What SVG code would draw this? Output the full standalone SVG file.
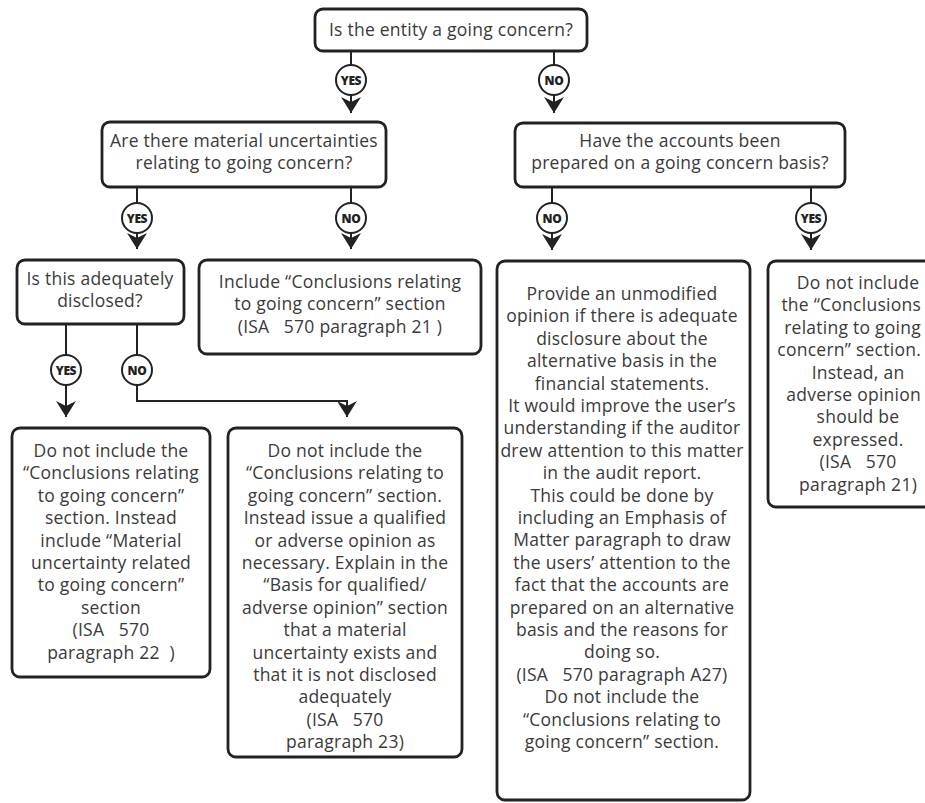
<svg xmlns="http://www.w3.org/2000/svg" width="925" height="803" viewBox="0 0 925 803">
  <defs>
    <marker id="arrow" viewBox="0 0 16 20" refX="16" refY="10" markerWidth="16" markerHeight="20" markerUnits="userSpaceOnUse" orient="auto">
      <path d="M0,0 L16,10 L0,20 L5,10 Z" fill="#222"/>
    </marker>
    <style>
      .box { fill: #fff; stroke: #222; stroke-width: 2.8; }
      .txt { font-family: "Open Sans", "Liberation Sans", sans-serif; font-size: 17.5px; fill: #3a3a3a; text-anchor: middle; letter-spacing: 0.25px; }
      .edge { fill: none; stroke: #222; stroke-width: 2; marker-end: url(#arrow); }
      .tag { fill: #fff; stroke: #222; stroke-width: 2; }
      .tagtxt { font-family: "Open Sans", "Liberation Sans", sans-serif; font-size: 12px; font-weight: 800; fill: #222; text-anchor: middle; letter-spacing: -0.4px; }
    </style>
  </defs>

  <!-- flow lines with arrowheads -->
  <g id="connectors">
    <path class="edge" d="M351,51 V113"/>
    <path class="edge" d="M554,51 V113"/>
    <path class="edge" d="M137,187 V249"/>
    <path class="edge" d="M351,187 V249"/>
    <path class="edge" d="M552,187 V250"/>
    <path class="edge" d="M811,187 V250"/>
    <path class="edge" d="M66,324 V417"/>
    <path class="edge" d="M137,324 V401 H347 V417"/>

    <!-- decision tags -->
    <g>
      <circle class="tag" cx="351" cy="80" r="15"/><text class="tagtxt" x="351" y="84.5">YES</text>
      <circle class="tag" cx="554" cy="80" r="15"/><text class="tagtxt" x="554" y="84.5">NO</text>
      <circle class="tag" cx="137" cy="218" r="15"/><text class="tagtxt" x="137" y="222.5">YES</text>
      <circle class="tag" cx="351" cy="218" r="15"/><text class="tagtxt" x="351" y="222.5">NO</text>
      <circle class="tag" cx="552" cy="218" r="15"/><text class="tagtxt" x="552" y="222.5">NO</text>
      <circle class="tag" cx="811" cy="218" r="15"/><text class="tagtxt" x="811" y="222.5">YES</text>
      <circle class="tag" cx="66" cy="370" r="15"/><text class="tagtxt" x="66" y="374.5">YES</text>
      <circle class="tag" cx="137" cy="370" r="15"/><text class="tagtxt" x="137" y="374.5">NO</text>
    </g>
  </g>

  <g id="going-concern">
    <rect class="box" x="315" y="9" width="272" height="42" rx="8"/>
    <text class="txt" x="451" y="36">Is the entity a going concern?</text>
  </g>

  <g id="material-uncertainties">
    <rect class="box" x="102" y="122" width="284" height="65" rx="8"/>
    <text class="txt" y="147"><tspan x="244">Are there material uncertainties</tspan><tspan x="244" dy="22.4">relating to going concern?</tspan></text>
  </g>

  <g id="going-concern-basis">
    <rect class="box" x="515" y="123" width="330" height="64" rx="8"/>
    <text class="txt" y="147"><tspan x="680">Have the accounts been</tspan><tspan x="680" dy="22.4">prepared on a going concern basis?</tspan></text>
  </g>

  <g id="adequately-disclosed">
    <rect class="box" x="17" y="260" width="167" height="64" rx="8"/>
    <text class="txt" y="285"><tspan x="100">Is this adequately</tspan><tspan x="100" dy="22.4">disclosed?</tspan></text>
  </g>

  <g id="include-section">
    <rect class="box" x="199" y="260" width="282" height="94" rx="8"/>
    <text class="txt" y="288" xml:space="preserve"><tspan x="340">Include “Conclusions relating</tspan><tspan x="340" dy="22.4">to going concern” section</tspan><tspan x="340" dy="22.4">(ISA   570 paragraph 21 )</tspan></text>
  </g>

  <g id="material-uncertainty-section">
    <rect class="box" x="12" y="428" width="198" height="249" rx="8"/>
    <text class="txt" y="457" xml:space="preserve"><tspan x="111">Do not include the</tspan><tspan x="111" dy="22.4">“Conclusions relating</tspan><tspan x="111" dy="22.4">to going concern”</tspan><tspan x="111" dy="22.4">section. Instead</tspan><tspan x="111" dy="22.4">include “Material</tspan><tspan x="111" dy="22.4">uncertainty related</tspan><tspan x="111" dy="22.4">to going concern”</tspan><tspan x="111" dy="22.4">section</tspan><tspan x="111" dy="22.4">(ISA   570</tspan><tspan x="111" dy="22.4">paragraph 22  )</tspan></text>
  </g>

  <g id="qualified-or-adverse">
    <rect class="box" x="228" y="428" width="234" height="329" rx="8"/>
    <text class="txt" y="457" xml:space="preserve"><tspan x="345">Do not include the</tspan><tspan x="345" dy="22.4">“Conclusions relating to</tspan><tspan x="345" dy="22.4">going concern” section.</tspan><tspan x="345" dy="22.4">Instead issue a qualified</tspan><tspan x="345" dy="22.4">or adverse opinion as</tspan><tspan x="345" dy="22.4">necessary. Explain in the</tspan><tspan x="345" dy="22.4">“Basis for qualified/</tspan><tspan x="345" dy="22.4">adverse opinion” section</tspan><tspan x="345" dy="22.4">that a material</tspan><tspan x="345" dy="22.4">uncertainty exists and</tspan><tspan x="345" dy="22.4">that it is not disclosed</tspan><tspan x="345" dy="22.4">adequately</tspan><tspan x="345" dy="22.4">(ISA   570</tspan><tspan x="345" dy="22.4">paragraph 23)</tspan></text>
  </g>

  <g id="alternative-basis">
    <rect class="box" x="497" y="261" width="253" height="539" rx="8"/>
    <text class="txt" y="300" xml:space="preserve"><tspan x="622">Provide an unmodified</tspan><tspan x="622" dy="22.4">opinion if there is adequate</tspan><tspan x="622" dy="22.4">disclosure about the</tspan><tspan x="622" dy="22.4">alternative basis in the</tspan><tspan x="622" dy="22.4">financial statements.</tspan><tspan x="622" dy="22.4">It would improve the user’s</tspan><tspan x="622" dy="22.4">understanding if the auditor</tspan><tspan x="622" dy="22.4">drew attention to this matter</tspan><tspan x="622" dy="22.4">in the audit report.</tspan><tspan x="622" dy="22.4">This could be done by</tspan><tspan x="622" dy="22.4">including an Emphasis of</tspan><tspan x="622" dy="22.4">Matter paragraph to draw</tspan><tspan x="622" dy="22.4">the users’ attention to the</tspan><tspan x="622" dy="22.4">fact that the accounts are</tspan><tspan x="622" dy="22.4">prepared on an alternative</tspan><tspan x="622" dy="22.4">basis and the reasons for</tspan><tspan x="622" dy="22.4">doing so.</tspan><tspan x="622" dy="22.4">(ISA   570 paragraph A27)</tspan><tspan x="622" dy="22.4">Do not include the</tspan><tspan x="622" dy="22.4">“Conclusions relating to</tspan><tspan x="622" dy="22.4">going concern” section.</tspan></text>
  </g>

  <g id="adverse-opinion">
    <rect class="box" x="768" y="261" width="184" height="246" rx="8"/>
    <text class="txt" y="289" xml:space="preserve"><tspan x="858">Do not include</tspan><tspan x="921" dy="22.4" text-anchor="end">the “Conclusions</tspan><tspan x="921" dy="22.4" text-anchor="end">relating to going</tspan><tspan x="921" dy="22.4" text-anchor="end">concern” section.</tspan><tspan x="858" dy="22.4">Instead, an</tspan><tspan x="921" dy="22.4" text-anchor="end">adverse opinion</tspan><tspan x="858" dy="22.4">should be</tspan><tspan x="858" dy="22.4">expressed.</tspan><tspan x="858" dy="22.4">(ISA   570</tspan><tspan x="858" dy="22.4">paragraph 21)</tspan></text>
  </g>
</svg>
